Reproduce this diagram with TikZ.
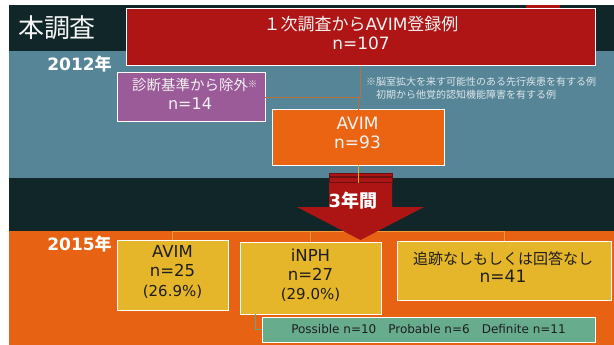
\documentclass[tikz,border=0pt]{standalone}
\usepackage{fontspec}
\setmainfont{DejaVu Sans}
\newfontfamily\jp{Noto Sans CJK JP}
\newcommand\myfs[2]{\fontsize{#1}{#2}\selectfont}
\definecolor{bgdark}{HTML}{112629}
\definecolor{bgblue}{HTML}{568597}
\definecolor{bgorange}{HTML}{E86213}
\definecolor{boxred}{HTML}{AF1515}
\definecolor{boxpurple}{HTML}{9B5B98}
\definecolor{boxorange}{HTML}{EA6412}
\definecolor{boxyellow}{HTML}{E5B52A}
\definecolor{boxgreen}{HTML}{68AC8E}
\definecolor{arrowred}{HTML}{AD1414}
\definecolor{stripedark}{HTML}{6E1010}
\definecolor{linkbrown}{HTML}{B8703C}
\definecolor{linkyellow}{HTML}{E0AE22}
\definecolor{linkorange}{HTML}{F29A35}
\definecolor{linkgreen}{HTML}{5FA68C}
\definecolor{notegray}{HTML}{DDE6EA}
\definecolor{txtlight}{HTML}{F2F2F2}
\definecolor{txtdark}{HTML}{1E1E1E}
\tikzset{
  boxbase/.style={rectangle, draw=white, line width=1pt, inner sep=0pt, outer sep=0pt},
  redbox/.style={boxbase, fill=boxred},
  purplebox/.style={boxbase, fill=boxpurple},
  orangebox/.style={boxbase, fill=boxorange},
  yellowbox/.style={boxbase, fill=boxyellow},
  greenbox/.style={boxbase, fill=boxgreen},
  wtxt/.style={text=txtlight, align=center, inner sep=0pt},
  dtxt/.style={text=txtdark, align=center, inner sep=0pt},
  brownlink/.style={draw=linkbrown, line width=1pt},
  yellowlink/.style={draw=linkyellow, line width=1pt},
  orangelink/.style={draw=linkorange, line width=1pt},
  greenlink/.style={draw=linkgreen, line width=1pt},
}
\begin{document}
\begin{tikzpicture}[x=1pt,y=-1pt]
\useasboundingbox (0,0) rectangle (614,345);
\fill[white] (0,0) rectangle (614,345);
% background bands
\fill[bgdark] (9,5) rectangle (614,51);
\fill[bgblue] (9,51) rectangle (614,178);
\fill[bgdark] (9,178) rectangle (614,231);
\fill[bgorange] (9,231) rectangle (614,345);
\fill[boxred] (526,5) rectangle (560,9);

% boxes
\node[redbox, minimum width=469pt, minimum height=57pt] (reg) at (360.5,37.5) {};
\node[purplebox, minimum width=148pt, minimum height=49pt] (pur) at (191,97.5) {};
\node[orangebox, minimum width=172pt, minimum height=55pt] (avim) at (358,137.5) {};
\node[yellowbox, minimum width=111pt, minimum height=70pt] (ya) at (172.5,275) {};
\node[yellowbox, minimum width=141pt, minimum height=72pt] (yb) at (310.5,278) {};
\node[yellowbox, minimum width=214pt, minimum height=59pt] (yc) at (504,270.5) {};
\node[greenbox, minimum width=333pt, minimum height=25pt] (grn) at (428.5,329.5) {};

% connectors
\draw[brownlink] (reg.south) |- (pur.east);
\draw[brownlink] (avim.north) -- (avim.north |- pur.east);
\coordinate (bar) at (0,231);
\draw[orangelink] (ya.north) -- (ya.north |- bar) -- (yc.north |- bar) -- (yc.north);
\draw[orangelink] (yb.north) -- (yb.north |- bar);
\coordinate (gx) at (255,0);
\draw[greenlink] (yb.south -| gx) |- (grn.west);

% big arrow
\fill[arrowred] (329,183) -- (392,183) -- (392,207) -- (424,207) -- (360.5,240) -- (297,207) -- (329,207) -- cycle;
\filldraw[fill=arrowred, draw=stripedark, line width=0.6pt] (329,173) rectangle (392,176);
\filldraw[fill=arrowred, draw=stripedark, line width=0.6pt] (329,177.5) rectangle (392,182);
\coordinate (arrtop) at (358,183);
\draw[yellowlink] (avim.south) -- (arrtop);

% texts
\node[wtxt, font=\jp\myfs{26}{26}, text=white!92!gray] (title) at (57,28) {本調査};
\node[inner sep=0pt, text=white, font=\bfseries\myfs{17}{17}] (yr1) at (79.5,64) {2012{\jp\bfseries 年}};
\node[inner sep=0pt, text=white, font=\bfseries\myfs{17}{17}] (yr2) at (79.5,244) {2015{\jp\bfseries 年}};
\node[wtxt, font=\myfs{17}{18.5}] (regt) at (361,33) {{\jp １次調査から}AVIM{\jp 登録例}\\n=107};
\node[wtxt, font=\myfs{16}{19}] (purt) at (190,93.5) {{\jp\myfs{14.5}{19}診断基準から除外}\rlap{\raisebox{3pt}{\jp\myfs{9}{9}※}}\\n=14};
\node[anchor=west, align=left, inner sep=0pt, text=notegray, font=\jp\myfs{10}{13}] (note) at (366,88.5) {※脳室拡大を来す可能性のある先行疾患を有する例\\\hspace*{10pt}初期から他覚的認知機能障害を有する例};
\node[wtxt, font=\myfs{17}{19.5}] (avimt) at (357.5,133) {AVIM\\n=93};
\node[inner sep=0pt, text=white, font=\bfseries\myfs{18}{18}] (dur) at (353,201) {3{\jp\bfseries 年間}};
\node[dtxt, font=\myfs{16.5}{19.5}] (yat) at (172.5,271.5) {AVIM\\n=25\\{\myfs{15}{19.5}(26.9\%)}};
\node[dtxt, font=\myfs{16.5}{19}] (ybt) at (310.5,275) {iNPH\\n=27\\{\myfs{15}{19}(29.0\%)}};
\node[dtxt, font=\myfs{17}{18}] (yct) at (503,267) {{\jp\myfs{15}{18}追跡なしもしくは回答なし}\\n=41};
\node[dtxt, font=\myfs{12}{14}] (grnt) at (428.5,329.5) {Possible n=10\hspace{12pt}Probable n=6\hspace{12pt}Definite n=11};
\end{tikzpicture}
\end{document}
